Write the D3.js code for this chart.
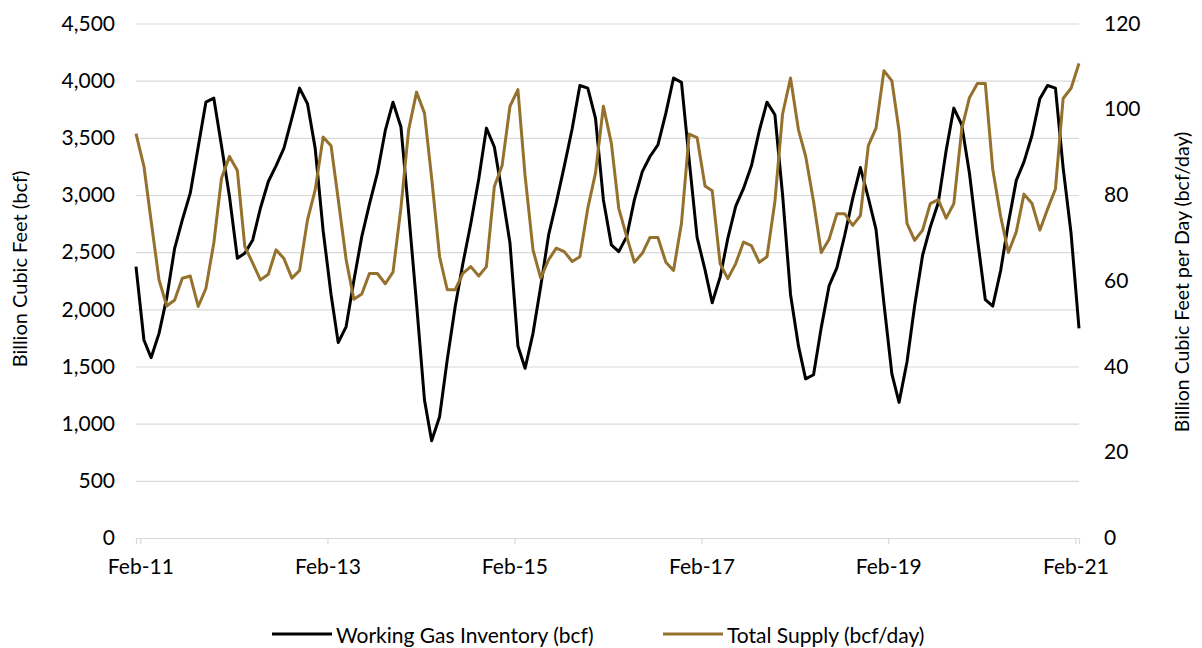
<!DOCTYPE html>
<html>
<head>
<meta charset="utf-8">
<script src="https://cdn.jsdelivr.net/npm/d3@7"></script>
<style>
  body { margin: 0; background: #fff; }
  text { font-family: Lato, "Open Sans", sans-serif; }
</style>
</head>
<body>
<div id="chart"></div>
<script>
// monthly readings, Jan-11 .. Feb-21
const inventory = [
  2374, 1732, 1577, 1790, 2100, 2534, 2782, 3016, 3420, 3812, 3847, 3430,
  2990, 2447, 2490, 2607, 2884, 3118, 3255, 3410, 3672, 3935, 3798, 3410,
  2690, 2130, 1709, 1849, 2250, 2636, 2920, 3191, 3565, 3812, 3595, 2850,
  2050, 1207, 850, 1061, 1560, 2024, 2400, 2750, 3140, 3585, 3420, 3020,
  2580, 1680, 1484, 1790, 2200, 2651, 2935, 3250, 3580, 3958, 3935, 3672,
  2957, 2564, 2505, 2636, 2957, 3205, 3337, 3439, 3716, 4023, 3985, 3308,
  2630, 2345, 2058, 2282, 2620, 2903, 3055, 3253, 3562, 3812, 3702, 3000,
  2130, 1680, 1392, 1428, 1840, 2208, 2363, 2650, 2970, 3240, 2975, 2700,
  2050, 1435, 1186, 1540, 2033, 2473, 2720, 2930, 3390, 3760, 3613, 3190,
  2620, 2084, 2028, 2340, 2753, 3128, 3290, 3518, 3842, 3958, 3935, 3240,
  2665, 1833
];
const supply = [
  94.3, 86.7, 74.0, 60.2, 54.1, 55.5, 60.6, 61.1, 54.0, 58.2, 68.8, 83.9,
  89.0, 85.7, 68.0, 64.1, 60.2, 61.5, 67.2, 65.2, 60.6, 62.4, 74.2, 81.2,
  93.5, 91.5, 79.0, 64.9, 55.7, 56.9, 61.7, 61.7, 59.3, 62.0, 77.0, 95.2,
  104.0, 99.1, 84.0, 65.6, 57.9, 57.9, 61.7, 63.3, 61.1, 63.3, 82.0, 86.8,
  100.7, 104.6, 84.5, 67.2, 60.6, 64.9, 67.6, 66.8, 64.5, 65.6, 76.9, 85.1,
  100.7, 92.1, 76.9, 70.3, 64.3, 66.4, 70.1, 70.1, 64.3, 62.4, 73.4, 94.2,
  93.4, 82.1, 81.0, 64.0, 60.5, 64.0, 69.0, 68.2, 64.3, 65.6, 78.5, 98.9,
  107.3, 95.2, 89.1, 78.5, 66.6, 69.7, 75.6, 75.6, 72.9, 75.2, 91.5, 95.6,
  109.0, 106.6, 95.0, 73.4, 69.4, 71.8, 78.0, 78.9, 74.6, 78.0, 95.4, 102.7,
  106.0, 106.0, 86.0, 75.0, 66.6, 71.4, 80.2, 78.1, 71.8, 76.7, 81.4, 102.5,
  104.9, 110.7
];
const leftTicks = [0, 500, 1000, 1500, 2000, 2500, 3000, 3500, 4000, 4500];
const rightTicks = [0, 20, 40, 60, 80, 100, 120];
const tickYears = [2011, 2013, 2015, 2017, 2019, 2021];
const seriesNames = ["Working Gas Inventory (bcf)", "Total Supply (bcf/day)"];
const seriesColors = ["#000000", "#94722e"];

let width = 1202,
    height = 648,
    margin = ({ top: 23.5, right: 123, bottom: 110, left: 136 }),
    fontSize = 21;

const svg = d3.select("#chart")
  .append("svg")
  .attr("width", width)
  .attr("height", height);

// points sit mid-month on a date axis
const months = inventory.map((d, i) => new Date(2011, i, 15));

let x = d3.scaleTime()
  .domain([months[0], months[months.length - 1]])
  .range([margin.left, width - margin.right]);

let yL = d3.scaleLinear()
  .domain([0, 4500])
  .range([height - margin.bottom, margin.top]);

let yR = d3.scaleLinear()
  .domain([0, 120])
  .range([height - margin.bottom, margin.top]);

// left axis + gridlines
svg.append("g")
  .attr("class", "y-axis")
  .attr("transform", `translate(${margin.left},0)`)
  .call(d3.axisLeft(yL).tickValues(leftTicks).tickFormat(d3.format(","))
    .tickSize(-(width - margin.left - margin.right)).tickPadding(21))
  .call(g => g.select(".domain").remove())
  .call(g => g.selectAll("line").attr("stroke", "#d9d9d9").attr("stroke-width", 1.2))
  .call(g => g.selectAll("text").attr("font-size", fontSize).attr("fill", "#000"));

// right axis (labels only)
svg.append("g")
  .attr("class", "y-axis-right")
  .attr("transform", `translate(${width - margin.right},0)`)
  .call(d3.axisRight(yR).tickValues(rightTicks).tickSize(0).tickPadding(25))
  .call(g => g.select(".domain").remove())
  .call(g => g.selectAll("text").attr("font-size", fontSize).attr("fill", "#000"));

// x axis
svg.append("g")
  .attr("class", "x-axis")
  .attr("transform", `translate(0,${height - margin.bottom})`)
  .call(d3.axisBottom(x).tickValues(tickYears.map(yr => new Date(yr, 1, 1)))
    .tickFormat(d3.timeFormat("%b-%y")).tickSizeOuter(0).tickSize(6).tickPadding(15))
  .call(g => g.select(".domain").attr("stroke", "#d9d9d9").attr("stroke-width", 1.2))
  .call(g => g.selectAll("line").attr("stroke", "#d9d9d9").attr("stroke-width", 1.2))
  .call(g => g.selectAll("text").attr("font-size", fontSize).attr("fill", "#000"));

// axis titles
svg.append("text")
  .attr("transform", "translate(19,269) rotate(-90)")
  .attr("text-anchor", "middle")
  .attr("dominant-baseline", "central")
  .attr("font-size", 20)
  .text("Billion Cubic Feet (bcf)");

svg.append("text")
  .attr("transform", "translate(1181,282) rotate(-90)")
  .attr("text-anchor", "middle")
  .attr("dominant-baseline", "central")
  .attr("font-size", 19.5)
  .text("Billion Cubic Feet per Day (bcf/day)");

// lines
const lineL = d3.line().x((d, i) => x(months[i])).y(d => yL(d));
const lineR = d3.line().x((d, i) => x(months[i])).y(d => yR(d));

svg.append("path")
  .datum(inventory)
  .attr("fill", "none")
  .attr("stroke", seriesColors[0])
  .attr("stroke-width", 3)
  .attr("stroke-linejoin", "round")
  .attr("d", lineL);

svg.append("path")
  .datum(supply)
  .attr("fill", "none")
  .attr("stroke", seriesColors[1])
  .attr("stroke-width", 3)
  .attr("stroke-linejoin", "round")
  .attr("d", lineR);

// legend
const legendX = [272, 663];
const legend = svg.append("g").attr("class", "legend");
seriesNames.forEach((name, i) => {
  legend.append("line")
    .attr("x1", legendX[i]).attr("x2", legendX[i] + 60)
    .attr("y1", 634).attr("y2", 634)
    .attr("stroke", seriesColors[i])
    .attr("stroke-width", 3);
  legend.append("text")
    .attr("x", legendX[i] + 64)
    .attr("y", 634)
    .attr("dominant-baseline", "central")
    .attr("font-size", fontSize)
    .text(name);
});
</script>
</body>
</html>
